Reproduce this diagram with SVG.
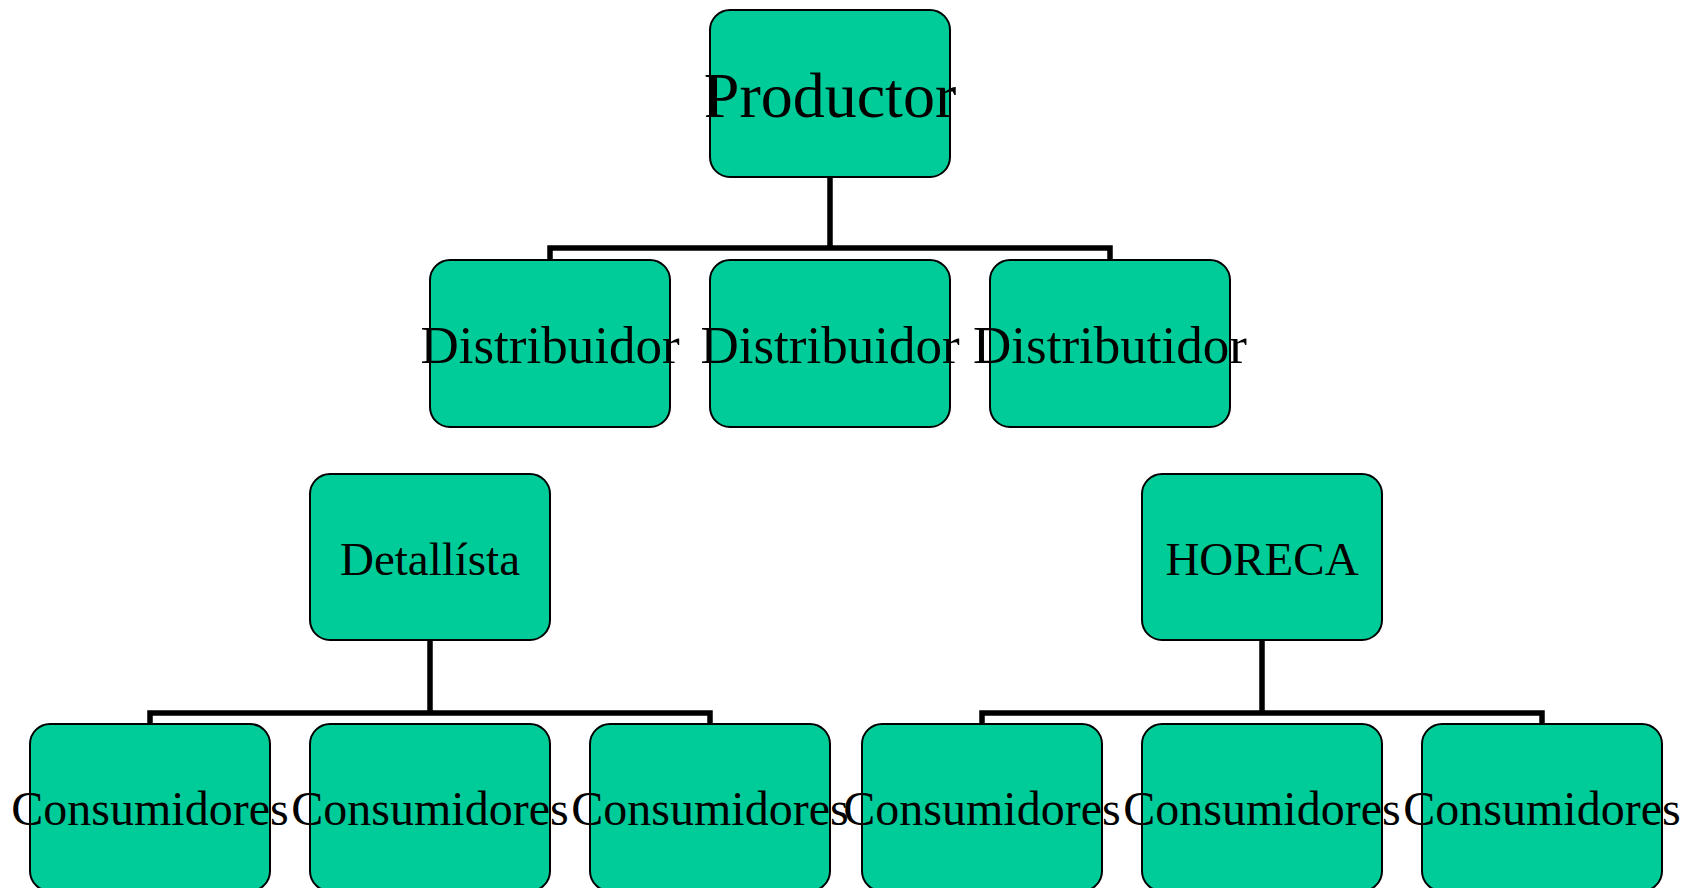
<svg xmlns="http://www.w3.org/2000/svg" width="1696" height="888" viewBox="0 0 1696 888">
<style>
.box{fill:#00CC99;stroke:#000;stroke-width:2}
.t{font-family:"Liberation Serif","Times New Roman",serif;fill:#000;text-anchor:middle}
.conn{fill:none;stroke:#000;stroke-width:5.5}
</style>
<rect width="1696" height="888" fill="#fff"/>
<g id="connectors" class="conn">
<path d="M830 177 V248 M550 260 V248 H1110 V260"/>
<path d="M430 640 V713 M150 724 V713 H710 V724"/>
<path d="M1262 640 V713 M982 724 V713 H1542 V724"/>
</g>
<g id="productor"><rect class="box" x="710" y="10" width="240" height="167" rx="20"/><text class="t" x="830" y="117" font-size="64">Productor</text></g>
<g id="distribuidor1"><rect class="box" x="430" y="260" width="240" height="167" rx="20"/><text class="t" x="550" y="363" font-size="53">Distribuidor</text></g>
<g id="distribuidor2"><rect class="box" x="710" y="260" width="240" height="167" rx="20"/><text class="t" x="830" y="363" font-size="53">Distribuidor</text></g>
<g id="distributidor3"><rect class="box" x="990" y="260" width="240" height="167" rx="20"/><text class="t" x="1110" y="363" font-size="53">Distributidor</text></g>
<g id="detallista"><rect class="box" x="310" y="474" width="240" height="166" rx="20"/><text class="t" x="430" y="575" font-size="47">Detallísta</text></g>
<g id="horeca"><rect class="box" x="1142" y="474" width="240" height="166" rx="20"/><text class="t" x="1262" y="575" font-size="47">HORECA</text></g>
<g id="consumidores1"><rect class="box" x="30" y="724" width="240" height="167" rx="20"/><text class="t" x="150" y="825" font-size="48">Consumidores</text></g>
<g id="consumidores2"><rect class="box" x="310" y="724" width="240" height="167" rx="20"/><text class="t" x="430" y="825" font-size="48">Consumidores</text></g>
<g id="consumidores3"><rect class="box" x="590" y="724" width="240" height="167" rx="20"/><text class="t" x="710" y="825" font-size="48">Consumidores</text></g>
<g id="consumidores4"><rect class="box" x="862" y="724" width="240" height="167" rx="20"/><text class="t" x="982" y="825" font-size="48">Consumidores</text></g>
<g id="consumidores5"><rect class="box" x="1142" y="724" width="240" height="167" rx="20"/><text class="t" x="1262" y="825" font-size="48">Consumidores</text></g>
<g id="consumidores6"><rect class="box" x="1422" y="724" width="240" height="167" rx="20"/><text class="t" x="1542" y="825" font-size="48">Consumidores</text></g>
</svg>
